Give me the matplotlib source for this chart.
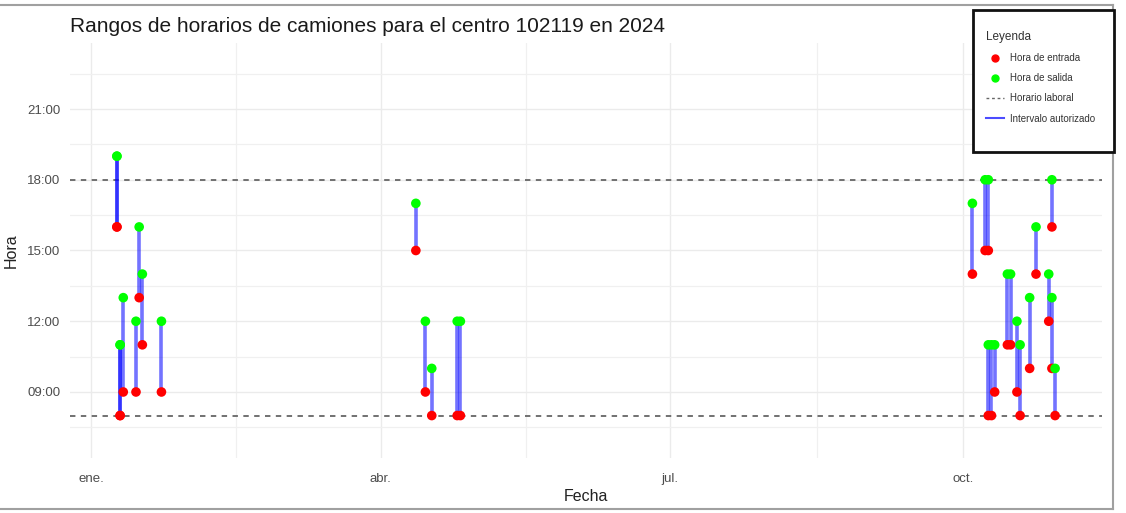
import pandas as pd
import numpy as np
import matplotlib
matplotlib.use('Agg')
import matplotlib.pyplot as plt
import matplotlib.dates as mdates
from matplotlib.lines import Line2D

plt.rcParams['font.family'] = ['Liberation Sans', 'DejaVu Sans']

# ---------------- datos ----------------
fechas = ['2024-01-09', '2024-01-09', '2024-01-10', '2024-01-10', '2024-01-11',
          '2024-01-15', '2024-01-16', '2024-01-17', '2024-01-23',
          '2024-04-12', '2024-04-15', '2024-04-17', '2024-04-25', '2024-04-26',
          '2024-10-04', '2024-10-08', '2024-10-09', '2024-10-09', '2024-10-10',
          '2024-10-11', '2024-10-15', '2024-10-16', '2024-10-18', '2024-10-19',
          '2024-10-22', '2024-10-24', '2024-10-28', '2024-10-29', '2024-10-29',
          '2024-10-30']
hora_entrada = [16, 16, 8, 8, 9, 9, 13, 11, 9,
                15, 9, 8, 8, 8,
                14, 15, 15, 8, 8, 9, 11, 11, 9, 8, 10, 14, 12, 16, 10, 8]
hora_salida = [19, 19, 11, 11, 13, 12, 16, 14, 12,
               17, 12, 10, 12, 12,
               17, 18, 18, 11, 11, 11, 14, 14, 12, 11, 13, 16, 14, 18, 13, 10]

horario_laboral = [8, 18]

mes_fechas = ['2024-01-01', '2024-04-01', '2024-07-01', '2024-10-01']
mes_etiquetas = ['ene.', 'abr.', 'jul.', 'oct.']
hora_ticks = [9, 12, 15, 18, 21]
hora_etiquetas = ['09:00', '12:00', '15:00', '18:00', '21:00']
y_limites = [7, 23]

# ---------------- figura ----------------
W, H = 1126, 513
fig = plt.figure(figsize=(W / 100, H / 100), dpi=100)
ax = fig.add_axes([70 / W, 1 - 458 / H, (1102 - 70) / W, (458 - 43) / H])

x = mdates.date2num(pd.to_datetime(fechas))

ax.vlines(x, hora_entrada, hora_salida, color='blue', lw=2.6, alpha=0.55, zorder=3)
ax.scatter(x, hora_entrada, s=48, color='#FF0000', zorder=4, edgecolors='none')
ax.scatter(x, hora_salida, s=48, color='#00FF00', zorder=5, edgecolors='none')
for h in horario_laboral:
    ax.axhline(h, color='#666666', lw=1.3, ls=(0, (3, 3)), zorder=2)

# limites con expansion de 5% (estilo ggplot)
rx = x.max() - x.min()
ax.set_xlim(x.min() - 0.05 * rx, x.max() + 0.05 * rx)
ry = y_limites[1] - y_limites[0]
ax.set_ylim(y_limites[0] - 0.05 * ry, y_limites[1] + 0.05 * ry)

xt = mdates.date2num(pd.to_datetime(mes_fechas))
ax.set_xticks(xt)
ax.set_xticklabels(mes_etiquetas)
ax.set_xticks((xt[:-1] + xt[1:]) / 2, minor=True)
ax.set_yticks(hora_ticks)
ax.set_yticklabels(hora_etiquetas)
ax.set_yticks([t - 1.5 for t in hora_ticks] + [hora_ticks[-1] + 1.5], minor=True)

ax.grid(True, which='major', color='#EBEBEB', lw=1.0)
ax.grid(True, which='minor', color='#F0F0F0', lw=0.9)
ax.set_axisbelow(True)
for s in ax.spines.values():
    s.set_visible(False)
ax.tick_params(which='both', length=0)
ax.tick_params(axis='both', labelsize=9.5, labelcolor='#4D4D4D')
ax.tick_params(axis='x', pad=11)
ax.tick_params(axis='y', pad=7)

ax.set_xlabel('Fecha', fontsize=11.5, color='#222222', labelpad=3)
ax.set_ylabel('Hora', fontsize=11.5, color='#222222', labelpad=6)

fig.text(70 / W, 1 - 32 / H, 'Rangos de horarios de camiones para el centro 102119 en 2024',
         fontsize=15, color='#1A1A1A', va='baseline', ha='left')

# marco exterior gris
fig.add_artist(Line2D([0, 1113 / W], [1 - 5 / H, 1 - 5 / H], color='#A0A0A0', lw=1.5))
fig.add_artist(Line2D([1113 / W, 1113 / W], [1 - 5 / H, 1 - 509 / H], color='#A0A0A0', lw=1.5))
fig.add_artist(Line2D([0, 1113 / W], [1 - 509 / H, 1 - 509 / H], color='#A0A0A0', lw=1.5))

# leyenda
caja = plt.Rectangle((973 / W, 1 - 152 / H), 141 / W, 142 / H, transform=fig.transFigure,
                     facecolor='white', edgecolor='#111111', lw=2, zorder=10)
fig.add_artist(caja)
handles = [
    Line2D([], [], marker='o', ls='none', color='#FF0000', markersize=5),
    Line2D([], [], marker='o', ls='none', color='#00FF00', markersize=5),
    Line2D([], [], color='#666666', ls=(0, (2, 2)), lw=1),
    Line2D([], [], color='blue', lw=1.5, alpha=0.7),
]
etiquetas = ['Hora de entrada', 'Hora de salida', 'Horario laboral', 'Intervalo autorizado']
leg = fig.legend(handles, etiquetas, loc='upper left', bbox_to_anchor=(981 / W, 1 - 26 / H),
                 frameon=False, fontsize=7, title='Leyenda', title_fontsize=8.5,
                 alignment='left', handlelength=1.9, handletextpad=0.6,
                 labelspacing=1.05, borderpad=0)
leg.set_zorder(11)
for t in leg.get_texts():
    t.set_color('#333333')
leg.get_title().set_color('#333333')

fig.savefig('out.png', dpi=100, facecolor='white')
